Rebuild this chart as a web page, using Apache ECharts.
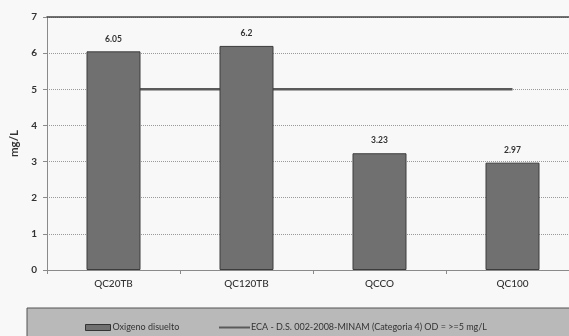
<!DOCTYPE html>
<html>
<head>
<meta charset="utf-8">
<script src="https://cdn.jsdelivr.net/npm/echarts@6/dist/echarts.min.js"></script>
<style>
  html, body { margin: 0; padding: 0; background: #f8f8f8; overflow: hidden; }
  #chart { width: 592px; height: 336px; }
</style>
</head>
<body>
<div id="chart"></div>
<script>
// Estaciones de muestreo y oxígeno disuelto medido (mg/L)
const categories = ['QC20TB', 'QC120TB', 'QCCO', 'QC100'];
const oxigeno = [6.05, 6.2, 3.23, 2.97];
// Estándar ECA Categoría 4 para OD
const eca = [5, 5, 5, 5];
const yTicks = [0, 1, 2, 3, 4, 5, 6, 7];

const barName = 'Oxigeno disuelto';
const lineName = 'ECA - D.S. 002-2008-MINAM (Categoria 4) OD = >=5 mg/L';
const font = 'Lato, "Open Sans", sans-serif';

const chart = echarts.init(document.getElementById('chart'));
chart.setOption({
  backgroundColor: '#f8f8f8',
  animation: false,
  textStyle: { fontFamily: font },
  graphic: [{
    type: 'rect',
    shape: { x: 27, y: 308, width: 580, height: 40 },
    style: { fill: '#b9b9b9', stroke: '#555', lineWidth: 1 },
    z: 0
  }],
  legend: [{
    data: [{ name: barName, icon: 'rect' }],
    left: 80, top: 318,
    itemWidth: 25, itemHeight: 6,
    itemStyle: { borderColor: '#333', borderWidth: 1 },
    textStyle: { fontSize: 9, color: '#333', fontFamily: font, padding: [0, 0, 0, -3] }
  }, {
    data: [{ name: lineName, icon: 'rect' }],
    left: 214, top: 318,
    itemWidth: 31, itemHeight: 2,
    textStyle: { fontSize: 9, color: '#333', fontFamily: font, padding: [0, 0, 0, -4] }
  }],
  grid: { left: 47, top: 17, right: 13, bottom: 66 },
  xAxis: [{
    type: 'category',
    data: categories,
    axisLine: { lineStyle: { color: '#8a8a8a', width: 1 } },
    axisTick: { show: true, length: 4, lineStyle: { color: '#8a8a8a' } },
    axisLabel: { color: '#333', fontSize: 10, fontWeight: 500, margin: 9, fontFamily: font }
  }, {
    type: 'category',
    data: categories,
    position: 'top',
    axisLine: { show: true, lineStyle: { color: '#444', width: 1.5 } },
    axisTick: { show: false },
    axisLabel: { show: false }
  }],
  yAxis: {
    type: 'value',
    min: yTicks[0], max: yTicks[yTicks.length - 1], interval: 1,
    name: 'mg/L',
    nameLocation: 'middle',
    nameGap: 27,
    nameTextStyle: { fontSize: 11.5, fontWeight: 'bold', color: '#333', fontFamily: font },
    axisLine: { show: true, lineStyle: { color: '#8a8a8a' } },
    axisTick: { show: true, length: 4, lineStyle: { color: '#8a8a8a' } },
    axisLabel: { color: '#333', fontSize: 10, fontWeight: 'bold', margin: 10, fontFamily: font },
    splitLine: { show: true, lineStyle: { color: '#9a9a9a', type: [1, 1], width: 1 } }
  },
  series: [{
    name: lineName,
    type: 'line',
    data: eca,
    symbol: 'none',
    lineStyle: { color: '#5a5a5a', width: 2.5 },
    itemStyle: { color: '#5a5a5a' },
    z: 1
  }, {
    name: barName,
    type: 'bar',
    data: oxigeno,
    barWidth: 54,
    itemStyle: { color: '#707070', borderColor: '#3c3c3c', borderWidth: 1 },
    label: {
      show: true, position: 'top', distance: 8,
      fontSize: 8.5, fontWeight: 'bold', color: '#333', fontFamily: font
    },
    z: 3
  }]
});
</script>
</body>
</html>
